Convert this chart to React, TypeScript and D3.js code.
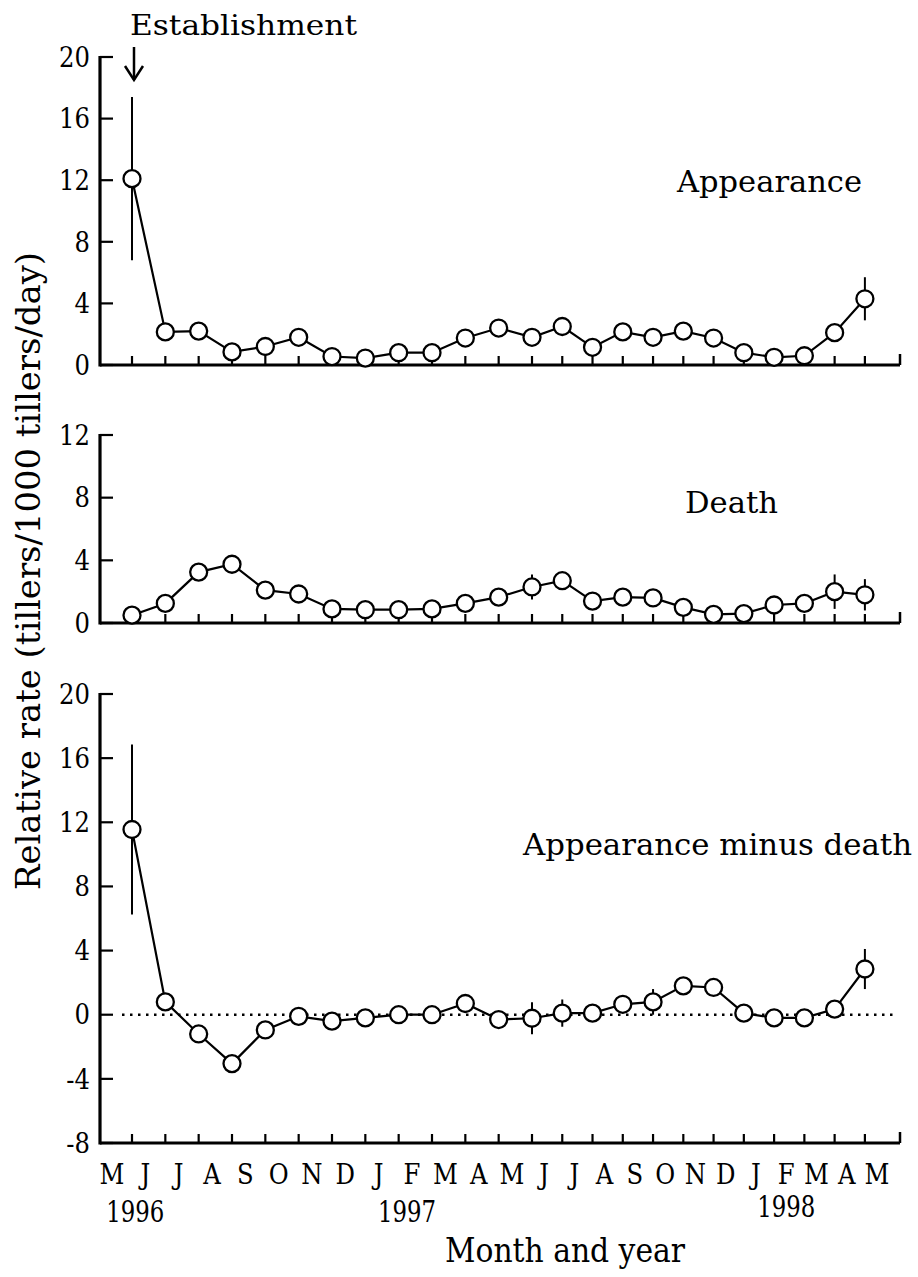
import React from "react";
import * as d3 from "d3";

// Month tick labels, May 1996 – May 1998
const months = ["M", "J", "J", "A", "S", "O", "N", "D", "J", "F", "M", "A", "M", "J", "J", "A", "S", "O", "N", "D", "J", "F", "M", "A", "M"];
const yearLabels = ["1996", "1997", "1998"];
const yearAt = [0.7, 8.85, 21.0]; // month-index position of each year label

// Relative rates (tillers/1000 tillers/day), one value per sampling interval
const appearance = [12.1, 2.15, 2.2, 0.85, 1.2, 1.8, 0.55, 0.45, 0.8, 0.8, 1.75, 2.4, 1.8, 2.5, 1.15, 2.15, 1.8, 2.2, 1.75, 0.8, 0.5, 0.6, 2.1, 4.3];
const appearanceErr = [5.3, 0, 0, 0, 0, 0, 0, 0, 0, 0, 0, 0, 0, 0, 0, 0, 0, 0, 0, 0, 0, 0, 0, 1.4];
const death = [0.5, 1.25, 3.25, 3.75, 2.1, 1.85, 0.9, 0.85, 0.85, 0.9, 1.25, 1.65, 2.3, 2.7, 1.4, 1.65, 1.6, 1.0, 0.55, 0.6, 1.15, 1.25, 2.0, 1.8];
const deathErr = [0, 0, 0, 0, 0, 0, 0, 0, 0, 0, 0, 0, 0.8, 0, 0, 0, 0, 0, 0, 0, 0, 0, 1.1, 1.0];
const net = [11.55, 0.8, -1.2, -3.05, -0.95, -0.1, -0.4, -0.2, 0.0, 0.0, 0.7, -0.3, -0.22, 0.1, 0.1, 0.65, 0.8, 1.8, 1.7, 0.1, -0.2, -0.2, 0.35, 2.85];
const netErr = [5.3, 0, 0, 0, 0, 0, 0, 0, 0, 0, 0, 0, 1.0, 0.85, 0, 0, 0.8, 0, 0, 0, 0, 0, 0, 1.25];

const appearanceTicks = [0, 4, 8, 12, 16, 20];
const deathTicks = [0, 4, 8, 12];
const netTicks = [-8, -4, 0, 4, 8, 12, 16, 20];

const sampleOffset = 0.6; // samples fall part-way through each month

const W = 918;
const H = 1277;
const axisLeft = 100;
const axisRight = 900;

const tickFont = "'DejaVu Serif Condensed', 'DejaVu Serif', serif";
const labelFont = "'DejaVu Serif', serif";

// Horizontal month scale (month index -> px)
const x = d3.scaleLinear().domain([0, 12.6, 24]).range([112, 532, 877]);

type Panel = {
  key: string;
  values: number[];
  err: number[];
  ticks: number[];
  domain: [number, number];
  range: [number, number];
  zeroLine?: boolean;
  title: string;
  titleX: number;
  titleY: number;
  titleW: number;
};

const panels: Panel[] = [
  { key: "app", values: appearance, err: appearanceErr, ticks: appearanceTicks, domain: [0, 20], range: [365, 57], title: "Appearance", titleX: 677, titleY: 192, titleW: 185 },
  { key: "death", values: death, err: deathErr, ticks: deathTicks, domain: [0, 12], range: [623, 435], title: "Death", titleX: 685, titleY: 513, titleW: 93 },
  { key: "net", values: net, err: netErr, ticks: netTicks, domain: [-8, 20], range: [1143, 694], zeroLine: true, title: "Appearance minus death", titleX: 523, titleY: 855, titleW: 389 },
];

function PanelView({ p }: { p: Panel }) {
  const y = d3.scaleLinear().domain(p.domain).range(p.range);
  const base = y(p.domain[0]);
  const top = y(p.domain[1]);
  const pts = p.values.map((v, i) => ({ v, e: p.err[i], cx: x(i + sampleOffset), cy: y(v) }));
  const line = d3
    .line<{ cx: number; cy: number }>()
    .x((d) => d.cx)
    .y((d) => d.cy);
  return (
    <g>
      {/* y axis */}
      <line x1={axisLeft} x2={axisLeft} y1={top - 1} y2={base + 1.5} stroke="#000" strokeWidth={3.2} />
      {p.ticks.map((t) => (
        <g key={t}>
          <line x1={axisLeft} x2={axisLeft + 13} y1={y(t)} y2={y(t)} stroke="#000" strokeWidth={2.2} />
          <text x={90} y={y(t)} dy="0.36em" textAnchor="end" fontFamily={tickFont} fontSize={27} fill="#000">
            {t}
          </text>
        </g>
      ))}
      {/* x axis */}
      <line x1={axisLeft} x2={axisRight} y1={base} y2={base} stroke="#000" strokeWidth={3.2} />
      <line x1={axisRight} x2={axisRight} y1={base} y2={base - 11} stroke="#000" strokeWidth={2.5} />
      {p.values.map((_, i) => (
        <line key={i} x1={x(i + sampleOffset)} x2={x(i + sampleOffset)} y1={base} y2={base - 9} stroke="#000" strokeWidth={2.2} />
      ))}
      {p.zeroLine && (
        <line x1={axisLeft + 22} x2={axisRight - 5} y1={y(0)} y2={y(0)} stroke="#000" strokeWidth={2.4} strokeDasharray="2.5,5.5" />
      )}
      {/* error bars */}
      {pts
        .filter((d) => d.e > 0)
        .map((d, i) => (
          <line key={i} x1={d.cx} x2={d.cx} y1={y(d.v + d.e)} y2={y(d.v - d.e)} stroke="#000" strokeWidth={2} />
        ))}
      <path d={line(pts) || ""} fill="none" stroke="#000" strokeWidth={2.2} />
      {pts.map((d, i) => (
        <circle key={i} cx={d.cx} cy={d.cy} r={8.5} fill="#fff" stroke="#000" strokeWidth={2.3} />
      ))}
      <text x={p.titleX} y={p.titleY} fontFamily={labelFont} fontSize={29} textLength={p.titleW} lengthAdjust="spacingAndGlyphs" fill="#000">
        {p.title}
      </text>
    </g>
  );
}

export default function App() {
  const arrowX = x(sampleOffset) + 2;
  return (
    <svg width={W} height={H} viewBox={`0 0 ${W} ${H}`} style={{ position: "absolute", left: 0, top: 0, background: "#fff" }}>
      <rect width={W} height={H} fill="#fff" />
      {panels.map((p) => (
        <PanelView key={p.key} p={p} />
      ))}

      {/* establishment marker */}
      <text x={130} y={35} fontFamily={labelFont} fontSize={28} textLength={227} lengthAdjust="spacingAndGlyphs" fill="#000">
        Establishment
      </text>
      <line x1={arrowX} x2={arrowX} y1={47} y2={80} stroke="#000" strokeWidth={2.5} />
      <path d={`M${arrowX - 9},66 L${arrowX},80 L${arrowX + 9},66`} fill="none" stroke="#000" strokeWidth={2.5} />

      {/* month and year labels */}
      {months.map((m, i) => (
        <text key={i} x={x(i)} y={1184} textAnchor="middle" fontFamily={tickFont} fontSize={27} fill="#000">
          {m}
        </text>
      ))}
      {yearLabels.map((yl, i) => (
        <text key={yl} x={x(yearAt[i])} y={i === 2 ? 1217 : 1222} textAnchor="middle" fontFamily={tickFont} fontSize={30} textLength={58} lengthAdjust="spacingAndGlyphs" fill="#000">
          {yl}
        </text>
      ))}
      <text x={565} y={1262} textAnchor="middle" fontFamily={tickFont} fontSize={33} textLength={240} lengthAdjust="spacingAndGlyphs" fill="#000">
        Month and year
      </text>

      {/* y axis title */}
      <text transform="translate(40,571) rotate(-90)" textAnchor="middle" fontFamily={tickFont} fontSize={33} textLength={638} lengthAdjust="spacingAndGlyphs" fill="#000">
        Relative rate (tillers/1000 tillers/day)
      </text>
    </svg>
  );
}
